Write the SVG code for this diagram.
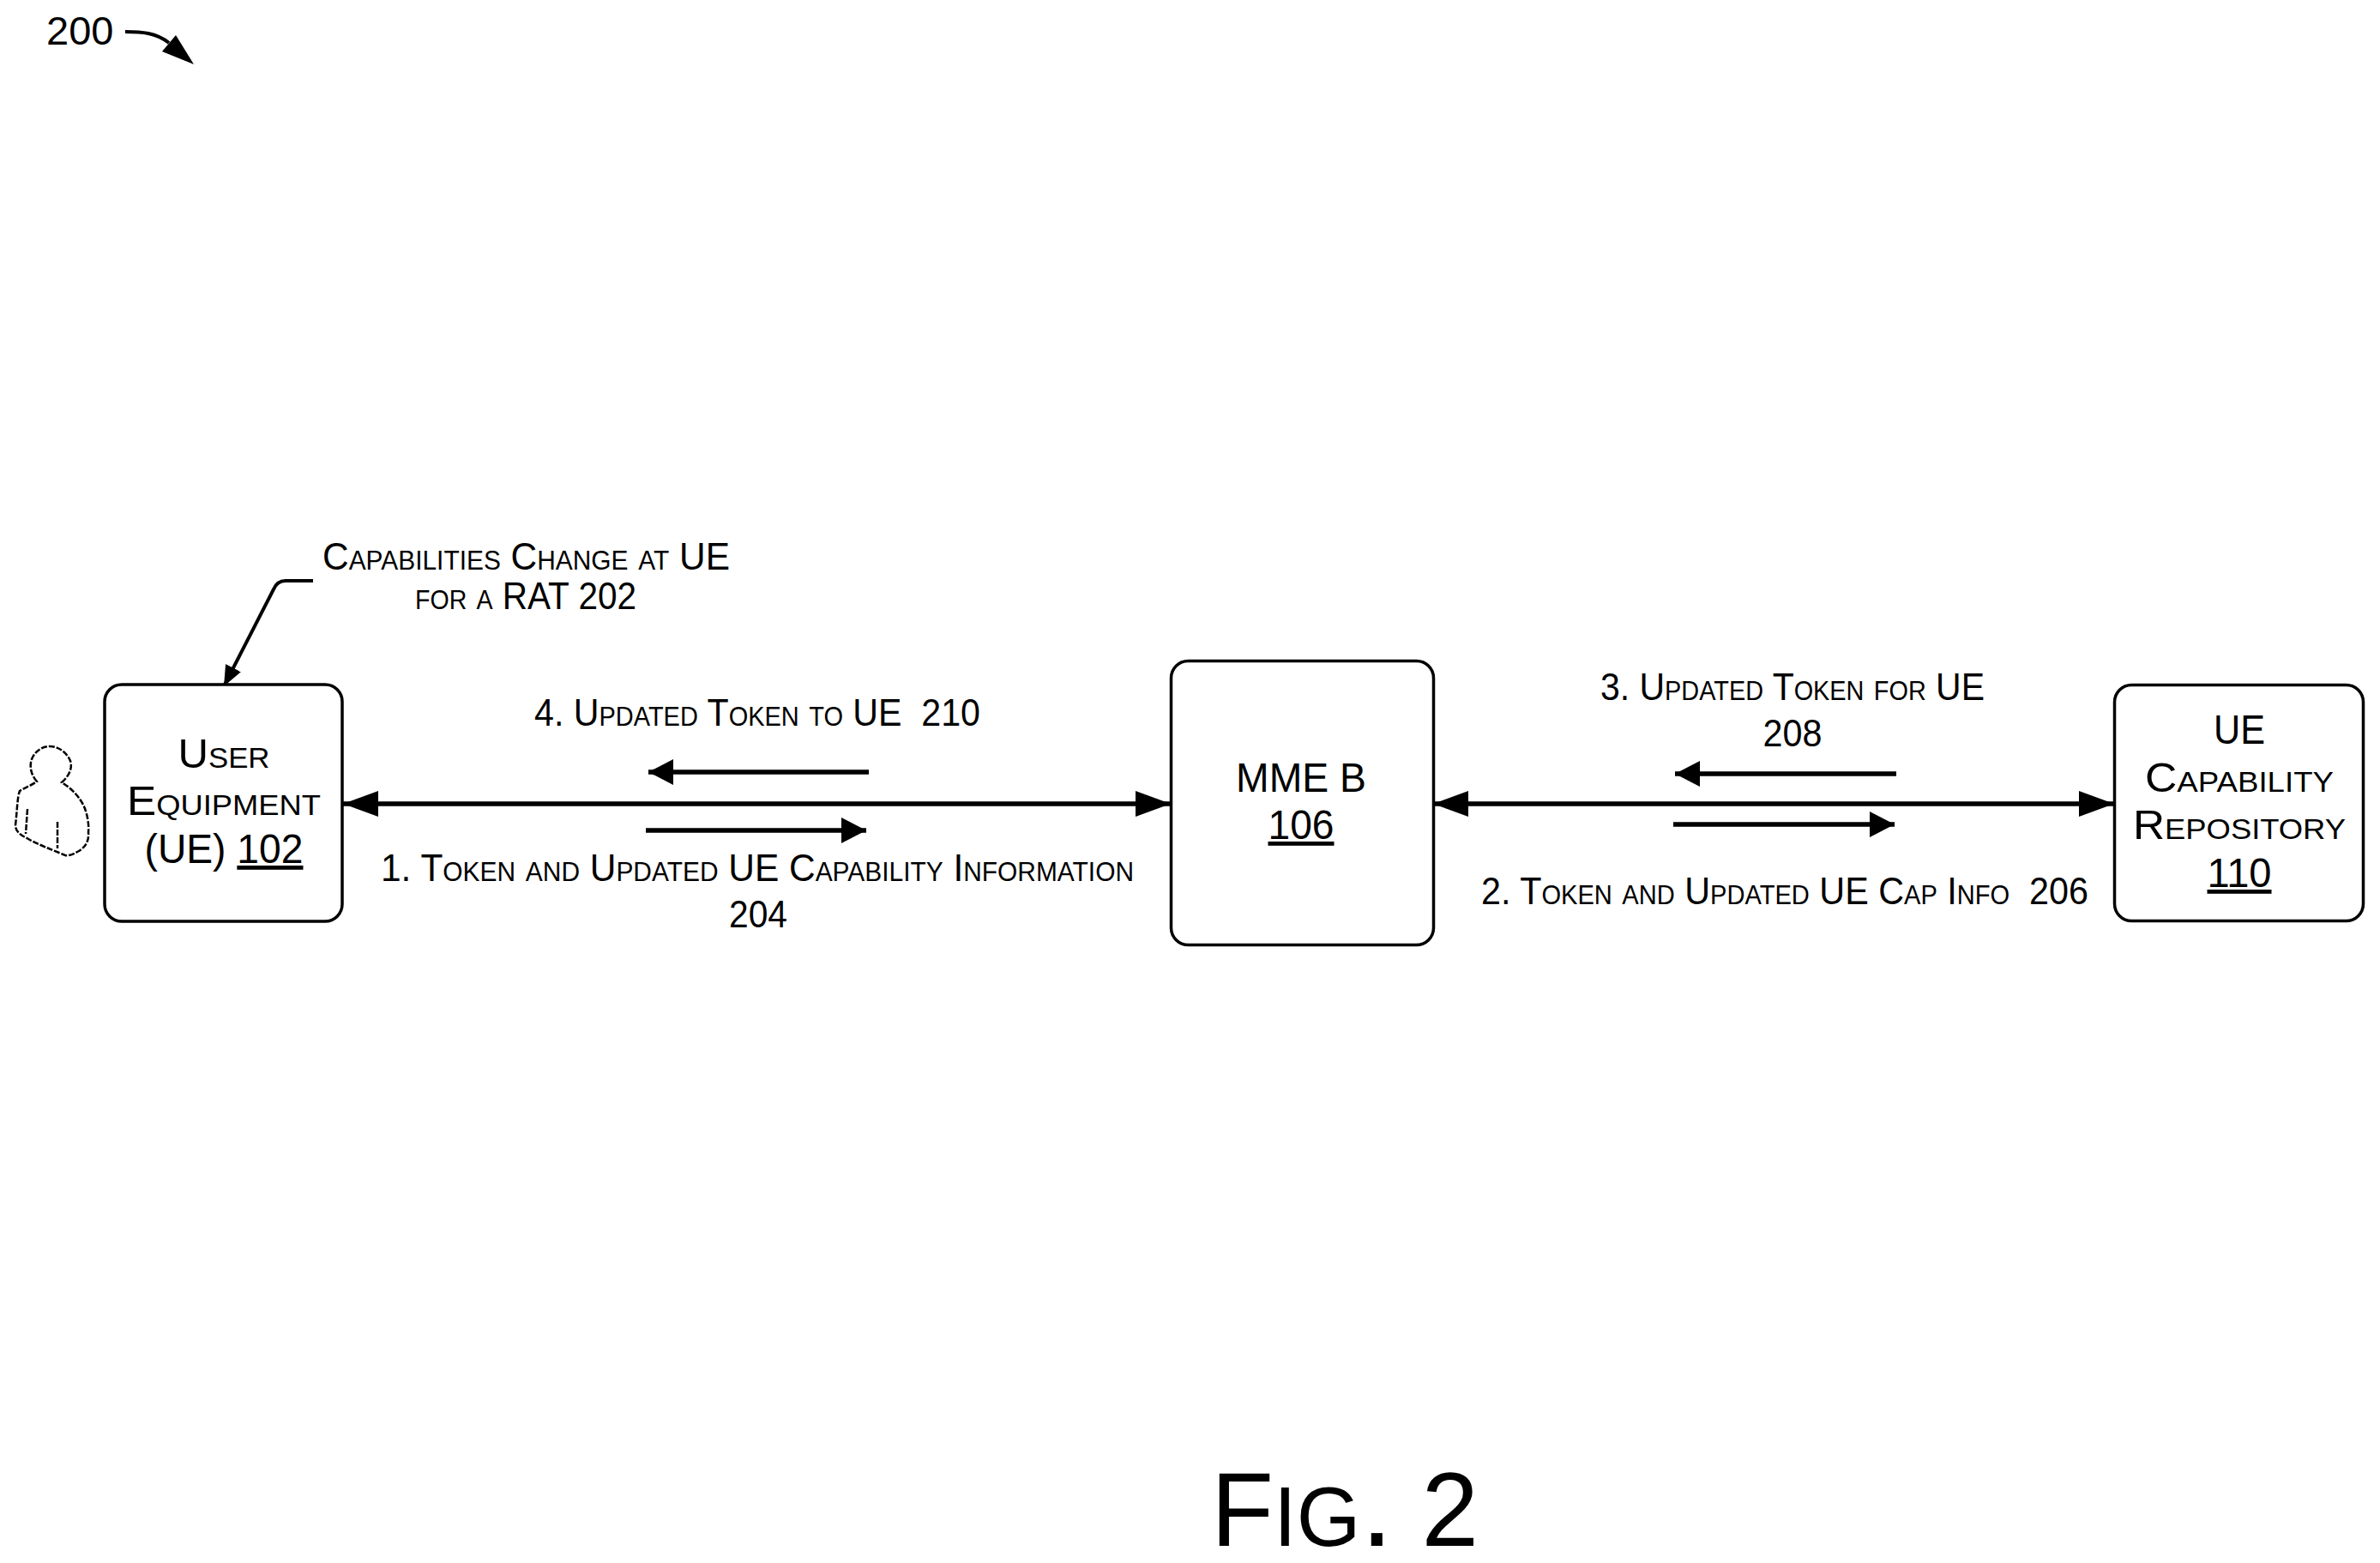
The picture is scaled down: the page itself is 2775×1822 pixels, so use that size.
<svg xmlns="http://www.w3.org/2000/svg" width="2775" height="1822" viewBox="0 0 2775 1822">
<style>
text{font-family:"Liberation Sans",Arial,sans-serif;fill:#000;font-variant:small-caps}
.n{font-size:48px;text-anchor:middle}
.l{font-size:44px}
.u{text-decoration:underline}
.box{fill:#fff;stroke:#000;stroke-width:3.5}
.con{fill:none;stroke:#000;stroke-width:5.5}
.p{fill:none;stroke:#000;stroke-width:2.5;stroke-dasharray:7 2}
</style>
<defs>
<marker id="big" markerUnits="userSpaceOnUse" markerWidth="42" markerHeight="30" refX="41" refY="15" orient="auto-start-reverse"><path d="M0 0L41 15L0 30Z"/></marker>
<marker id="small" markerUnits="userSpaceOnUse" markerWidth="30" markerHeight="30" refX="29" refY="15" orient="auto-start-reverse"><path d="M0 0L29 15L0 30Z"/></marker>
<marker id="lead" markerUnits="userSpaceOnUse" markerWidth="26" markerHeight="24" refX="24" refY="10" orient="auto"><path d="M0 0L24 10L0 20Z"/></marker>
</defs>
<rect width="2775" height="1822" fill="#fff"/>
<g id="connectors">
<path class="con" d="M400 937H1365" marker-start="url(#big)" marker-end="url(#big)"/>
<path class="con" d="M1671 937H2465" marker-start="url(#big)" marker-end="url(#big)"/>
<path class="con" d="M1013 900H756" marker-end="url(#small)"/>
<path class="con" d="M753 968H1010" marker-end="url(#small)"/>
<path class="con" d="M2211 902H1953" marker-end="url(#small)"/>
<path class="con" d="M1951 961H2209" marker-end="url(#small)"/>
<path class="con" style="stroke-width:4" d="M365 677H333Q323 677 319 687L261 800" marker-end="url(#lead)"/>
<path class="con" style="stroke-width:4" d="M146 37C165 37 182 38 197 50"/>
<path d="M226 75L205 41L189 60Z"/>
</g>
<g id="ref-200"><text x="54" y="52" style="font-size:47px;font-variant:normal">200</text></g>
<g id="ue-person">
<path class="p" d="M43 911C36 903 34 893 37 885C41 875 50 870 58 870C68 870 78 877 82 887C85 896 80 905 72 912C80 917 90 925 97 938C102 948 104 962 103 970C104 980 100 987 92 992C85 996 80 998 76 997C60 990 45 985 33 978C25 974 18 970 18 962C20 945 20 930 23 922C30 918 37 915 43 911Z"/>
<path class="p" d="M32 943L30 972M67 958V989"/>
</g>
<g id="user-equipment">
<rect class="box" x="122" y="798" width="277" height="276" rx="20"/>
<text class="n" x="261" y="895" textLength="107" lengthAdjust="spacingAndGlyphs">User</text>
<text class="n" x="261" y="950" textLength="226" lengthAdjust="spacingAndGlyphs">Equipment</text>
<text class="n" x="261" y="1006" textLength="185" lengthAdjust="spacingAndGlyphs">(UE) <tspan class="u">102</tspan></text>
</g>
<g id="mme-b">
<rect class="box" x="1365.5" y="770.5" width="306" height="331" rx="20"/>
<text class="n" x="1517" y="923" style="font-variant:normal" textLength="152" lengthAdjust="spacingAndGlyphs">MME B</text>
<text class="n u" x="1517" y="978" textLength="77" lengthAdjust="spacingAndGlyphs">106</text>
</g>
<g id="ue-capability-repository">
<rect class="box" x="2465.5" y="798.5" width="290" height="275" rx="20"/>
<text class="n" x="2611" y="867" textLength="60" lengthAdjust="spacingAndGlyphs">UE</text>
<text class="n" x="2611" y="923" textLength="220" lengthAdjust="spacingAndGlyphs">Capability</text>
<text class="n" x="2611" y="978" textLength="248" lengthAdjust="spacingAndGlyphs">Repository</text>
<text class="n u" x="2611" y="1034" textLength="75" lengthAdjust="spacingAndGlyphs">110</text>
</g>
<g id="labels">
<text class="l" x="376" y="664" textLength="475" lengthAdjust="spacingAndGlyphs">Capabilities Change at UE</text>
<text class="l" x="484" y="710" textLength="258" lengthAdjust="spacingAndGlyphs">for a RAT 202</text>
<text class="l" x="623" y="846" textLength="520" lengthAdjust="spacingAndGlyphs" xml:space="preserve">4. Updated Token to UE  210</text>
<text class="l" x="444" y="1027" textLength="878" lengthAdjust="spacingAndGlyphs">1. Token and Updated UE Capability Information</text>
<text class="l" x="884" y="1081" style="text-anchor:middle" textLength="68" lengthAdjust="spacingAndGlyphs">204</text>
<text class="l" x="1866" y="816" textLength="448" lengthAdjust="spacingAndGlyphs">3. Updated Token for UE</text>
<text class="l" x="2090" y="870" style="text-anchor:middle" textLength="69" lengthAdjust="spacingAndGlyphs">208</text>
<text class="l" x="1727" y="1054" textLength="708" lengthAdjust="spacingAndGlyphs" xml:space="preserve">2. Token and Updated UE Cap Info  206</text>
</g>
<g id="figure-label"><text x="1412" y="1802" style="font-size:122px" textLength="312" lengthAdjust="spacingAndGlyphs">F<tspan style="font-size:140px">ig.</tspan> 2</text></g>
</svg>
